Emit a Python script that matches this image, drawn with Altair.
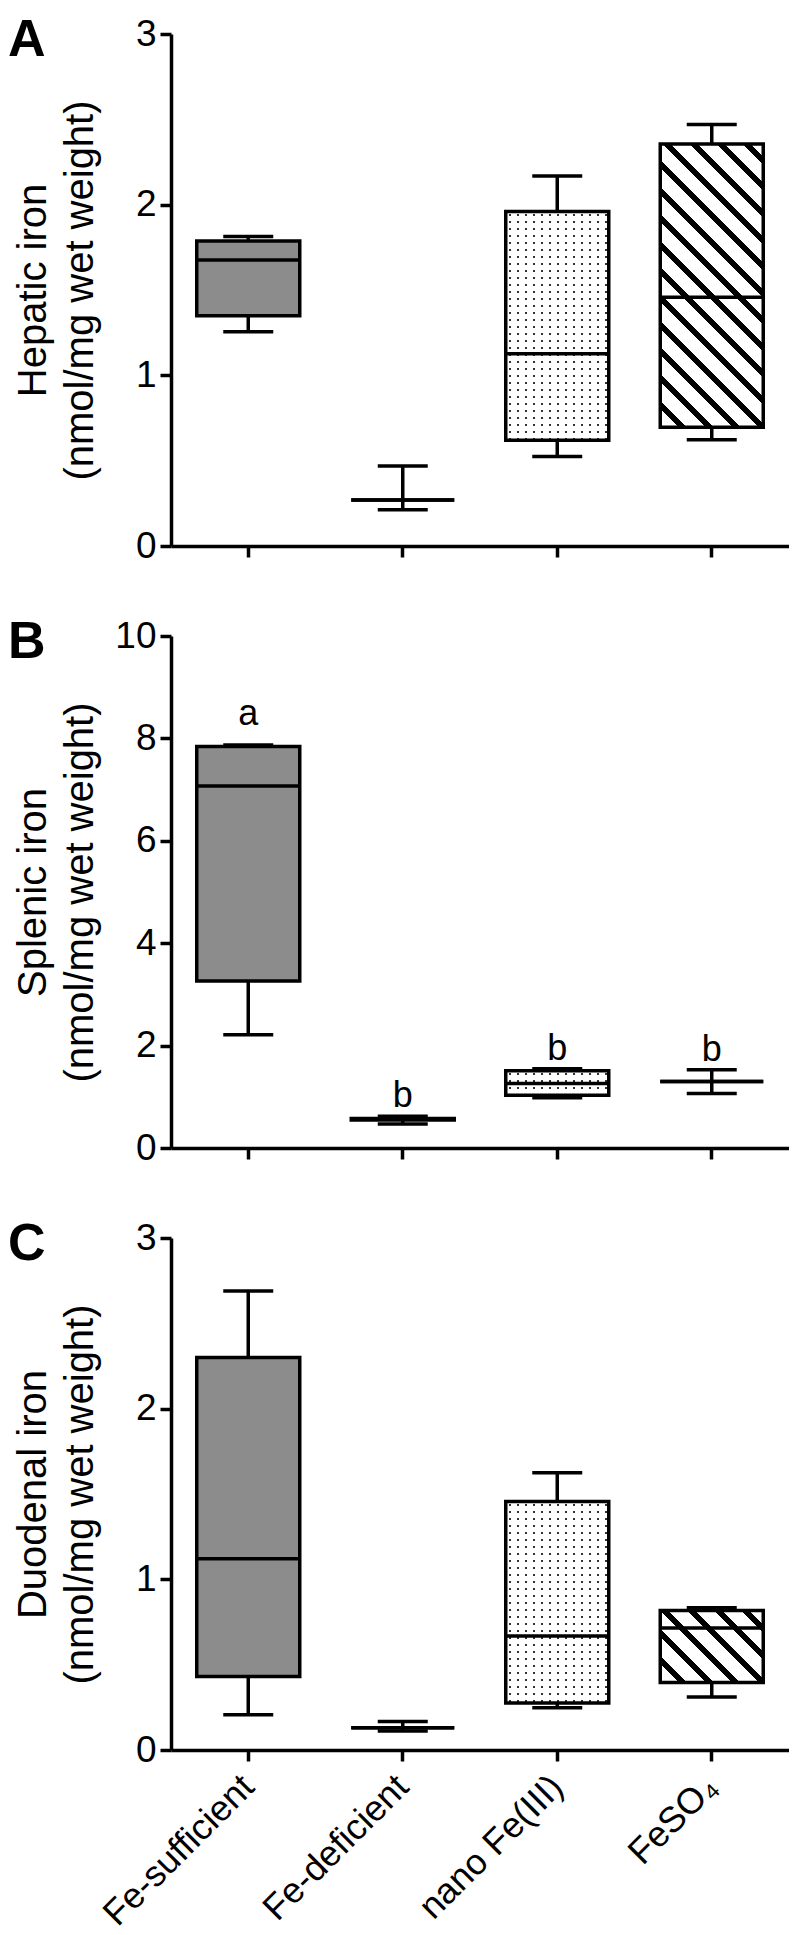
import altair as alt
import pandas as pd

# ---------------- data ----------------
categories = ["Fe-sufficient", "Fe-deficient", "nano Fe(III)", "FeSO\u2084"]

hep_min = [1.255, 0.213, 0.525, 0.623]
hep_q1 = [1.349, 0.270, 0.619, 0.696]
hep_med = [1.676, 0.270, 1.126, 1.457]
hep_q3 = [1.787, 0.270, 1.960, 2.356]
hep_max = [1.814, 0.469, 2.168, 2.470]

spl_min = [2.21, 0.47, 0.98, 1.065]
spl_q1 = [3.26, 0.545, 1.03, 1.30]
spl_med = [7.07, 0.56, 1.26, 1.30]
spl_q3 = [7.84, 0.575, 1.51, 1.30]
spl_max = [7.87, 0.62, 1.55, 1.53]
spl_sig = ["a", "b", "b", "b"]

duo_min = [0.206, 0.112, 0.248, 0.310]
duo_q1 = [0.431, 0.131, 0.276, 0.396]
duo_med = [1.120, 0.131, 0.668, 0.715]
duo_q3 = [2.300, 0.131, 1.456, 0.818]
duo_max = [2.690, 0.167, 1.625, 0.834]

y_ticks_A = [0, 1, 2, 3]
y_ticks_B = [0, 2, 4, 6, 8, 10]
y_ticks_C = [0, 1, 2, 3]

panel_letters = ["A", "B", "C"]

# ---------------- style ----------------
W, H = 618, 512
BOX = 103
CAP = 50
LW = 3.5
FONT = "Liberation Sans"
GRAY = "#8c8c8c"


def r(v):
    return round(v, 5)


def hatch_gradient(w, h, period=26.7, frac=0.3):
    """45-degree '\\' stripes inside a w x h box (objectBoundingBox units)."""
    k = (w + h) / (w * w + h * h)
    p = period / (w + h)
    stops = []
    off = 0.0
    while off < 1:
        b = min(off + p * (1 - frac), 1)
        c = min(off + p, 1)
        stops += [(off, "white"), (b, "white"), (b, "black"), (c, "black")]
        off += p
    return alt.LinearGradient(
        gradient="linear", x1=0, y1=1, x2=r(k * w), y2=r(1 - k * h),
        stops=[alt.GradientStop(offset=r(o), color=c) for o, c in stops],
    )


def stripe_gradient(length, vertical, period, dot, on, off_col):
    stops = [(0, off_col)]
    pos = period / 2 - dot / 2
    while pos + dot < length:
        a, b = pos / length, (pos + dot) / length
        stops += [(a, off_col), (a, on), (b, on), (b, off_col)]
        pos += period
    stops.append((1, off_col))
    if vertical:
        return alt.LinearGradient(gradient="linear", x1=0, y1=0, x2=0, y2=1,
                                  stops=[alt.GradientStop(offset=r(o), color=c) for o, c in stops])
    return alt.LinearGradient(gradient="linear", x1=0, y1=0, x2=1, y2=0,
                              stops=[alt.GradientStop(offset=r(o), color=c) for o, c in stops])


def panel(letter, mn, q1, md, q3, mx, ymax, yticks, ytitle, show_labels, sig=None):
    data = {"cat": categories, "min": mn, "q1": q1, "median": md, "q3": q3, "max": mx}
    if sig is not None:
        data["sig"] = sig
    df = pd.DataFrame(data)

    xaxis = alt.Axis(
        title=None, labels=show_labels, labelAngle=315, labelAlign="right",
        labelBaseline="middle", labelFontSize=36, labelFont=FONT, labelColor="black",
        labelPadding=20, labelLimit=0, tickSize=11, tickWidth=LW, tickColor="black",
        domainWidth=LW, domainColor="black", grid=False, labelOverlap=False,
    )
    yaxis = alt.Axis(
        values=yticks, format="d", title=ytitle, titleFont=FONT, titleFontSize=40,
        titleFontWeight="normal", titleColor="black", titleAngle=270, titleX=-126,
        titleY=H / 2, titleAlign="center", titleBaseline="alphabetic",
        titleLineHeight=47, labelFontSize=37, labelFont=FONT, labelColor="black",
        labelPadding=4, tickSize=11, tickWidth=LW, tickColor="black",
        domainWidth=LW, domainColor="black", grid=False,
    )
    yscale = alt.Scale(domain=[0, ymax], nice=False, zero=True)
    x = alt.X("cat:N", sort=categories, scale=alt.Scale(paddingInner=0, paddingOuter=0), axis=xaxis)

    def Y(field):
        return alt.Y(field, type="quantitative", scale=yscale, axis=yaxis)

    base = alt.Chart(df).encode(x=x)
    layers = []
    layers.append(base.mark_rule(strokeWidth=LW, color="black").encode(y=Y("min"), y2="max"))
    layers.append(base.mark_tick(size=CAP, thickness=LW, color="black", opacity=1).encode(y=Y("min")))
    layers.append(base.mark_tick(size=CAP, thickness=LW, color="black", opacity=1).encode(y=Y("max")))

    # plain boxes
    layers.append(base.transform_filter(alt.datum.cat == categories[0])
                  .mark_bar(size=BOX, fill=GRAY, stroke="black", strokeWidth=LW)
                  .encode(y=Y("q1"), y2="q3"))
    layers.append(base.transform_filter(alt.datum.cat == categories[1])
                  .mark_bar(size=BOX, fill="white", stroke="black", strokeWidth=LW)
                  .encode(y=Y("q1"), y2="q3"))

    # dotted box (nano Fe(III))
    h_nano = (q3[2] - q1[2]) / ymax * H
    cols = stripe_gradient(BOX, False, 8, 2, "#333333", "white")
    rows = stripe_gradient(max(h_nano, 1), True, 7, 2, "rgba(255,255,255,0)", "white")
    nb = base.transform_filter(alt.datum.cat == categories[2])
    layers.append(nb.mark_bar(size=BOX, fill=cols, strokeWidth=0).encode(y=Y("q1"), y2="q3"))
    layers.append(nb.mark_bar(size=BOX, fill=rows, stroke="black", strokeWidth=LW)
                  .encode(y=Y("q1"), y2="q3"))

    # hatched box (FeSO4)
    h_fe = (q3[3] - q1[3]) / ymax * H
    fill_fe = hatch_gradient(BOX, h_fe) if h_fe > 2 else "white"
    layers.append(base.transform_filter(alt.datum.cat == categories[3])
                  .mark_bar(size=BOX, fill=fill_fe, stroke="black", strokeWidth=LW)
                  .encode(y=Y("q1"), y2="q3"))

    # medians
    layers.append(base.mark_tick(size=BOX, thickness=LW, color="black", opacity=1)
                  .encode(y=Y("median")))

    if sig is not None:
        for s, d in (("a", -20), ("b", -9)):
            layers.append(base.transform_filter(alt.datum.sig == s)
                          .mark_text(dy=d, baseline="alphabetic", fontSize=36,
                                     font=FONT, color="black")
                          .encode(y=Y("max"), text="sig:N"))

    # panel letter
    layers.append(alt.Chart(pd.DataFrame({"letter": [letter]}))
                  .mark_text(align="left", baseline="alphabetic", fontSize=52,
                             fontWeight="bold", font=FONT, color="black")
                  .encode(text="letter:N", x=alt.value(-163), y=alt.value(22)))

    return alt.layer(*layers).properties(width=W, height=H)


pA = panel(panel_letters[0], hep_min, hep_q1, hep_med, hep_q3, hep_max, 3, y_ticks_A,
           ["Hepatic iron", "(nmol/mg wet weight)"], False)
pB = panel(panel_letters[1], spl_min, spl_q1, spl_med, spl_q3, spl_max, 10, y_ticks_B,
           ["Splenic iron", "(nmol/mg wet weight)"], False, sig=spl_sig)
pC = panel(panel_letters[2], duo_min, duo_q1, duo_med, duo_q3, duo_max, 3, y_ticks_C,
           ["Duodenal iron", "(nmol/mg wet weight)"], True)

chart = alt.vconcat(pA, pB, pC, spacing=52).properties(
    padding={"left": 0, "top": 6, "right": 0, "bottom": 0}, background="white"
).configure_view(stroke=None)

chart.save("out.html", embed_options={"renderer": "svg", "actions": False})
